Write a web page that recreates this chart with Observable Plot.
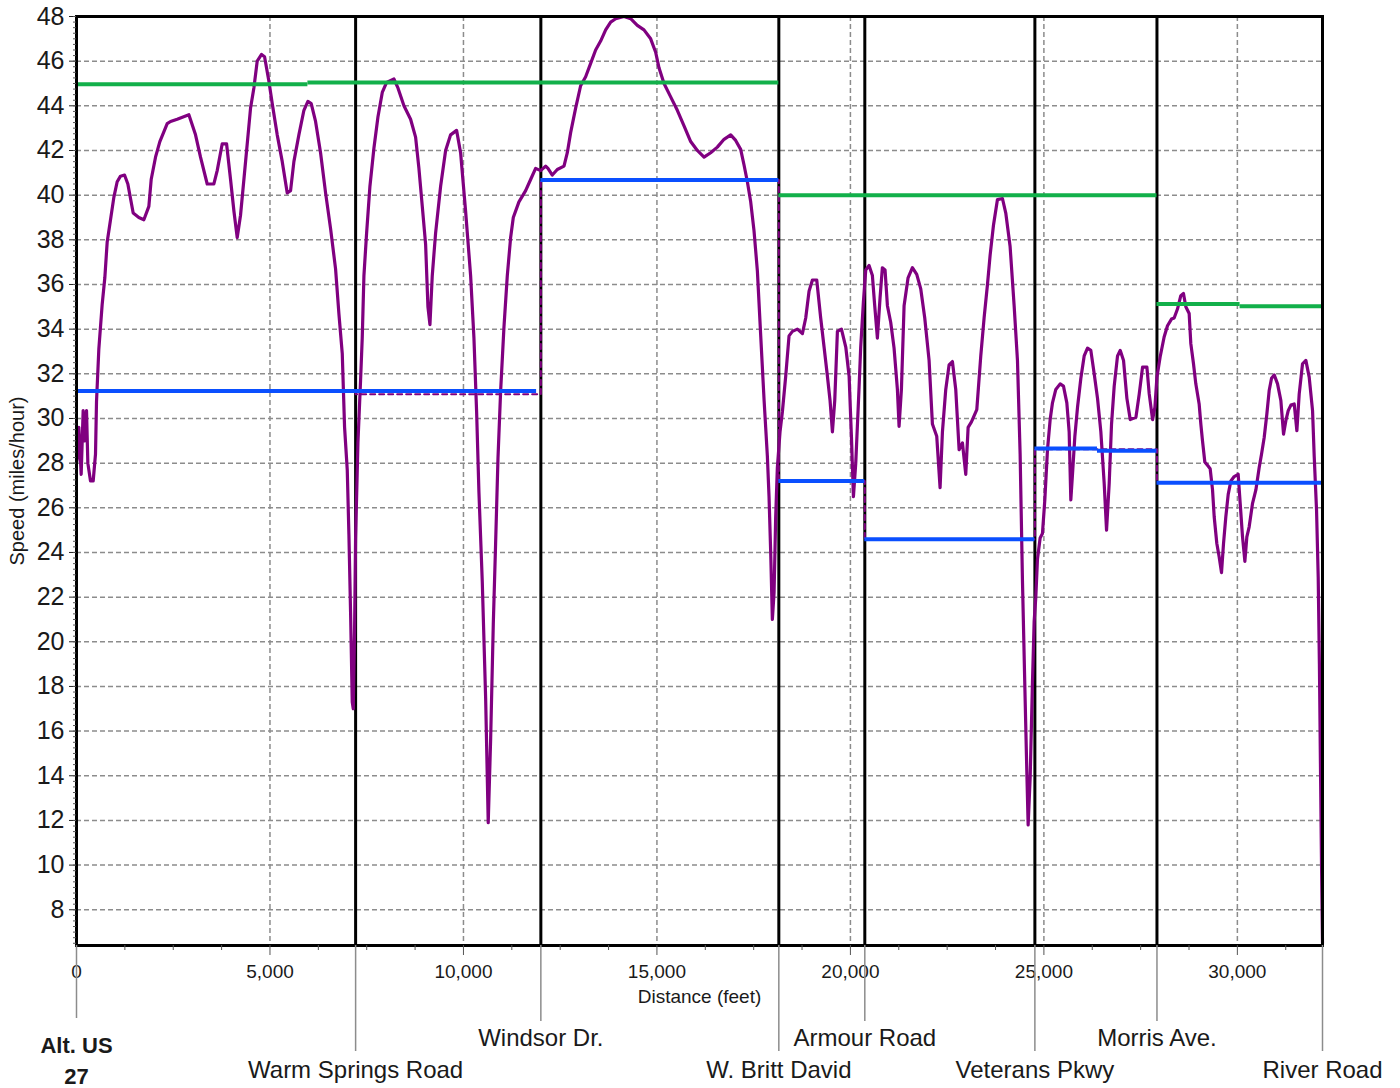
<!DOCTYPE html>
<html><head><meta charset="utf-8">
<script src="https://cdn.jsdelivr.net/npm/d3@7"></script>
<script src="https://cdn.jsdelivr.net/npm/@observablehq/plot@0.6"></script>
<style>html,body{margin:0;padding:0;background:#fff;} #chart svg{display:block}</style>
</head><body><div id="chart"></div>
<script>
// Speed profile (distance in feet, speed in mph)
const distance = [0,17,60,121,172,215,259,293,362,431,491,517,577,663,732,793,879,965,1051,1137,1241,1327,1465,1611,1741,1870,1930,2042,2154,2344,2430,2602,2904,3076,3205,3378,3550,3636,3766,3878,3981,4067,4153,4239,4326,4412,4498,4584,4670,4782,4860,4972,5058,5187,5317,5446,5532,5618,5747,5877,5980,6066,6178,6307,6437,6566,6695,6781,6868,
6928,6997,7040,7083,7126,7152,7186,7212,7273,7341,7384,7428,7497,7583,7686,7790,7902,8014,8203,8307,8462,8634,8763,8849,8936,9022,9082,9134,9194,9280,9410,9539,9668,9823,9926,10055,10185,10271,10340,10400,10486,10573,10640,10702,10771,10831,10892,10960,11047,11133,11219,11288,11434,11607,11736,11865,
11994,12124,12184,12296,12425,12598,12684,12770,12899,13028,13158,13287,13416,13545,13675,13804,13933,14149,14321,14493,14665,14838,14967,15053,15183,15355,15527,15700,15872,16044,16217,16389,16561,16734,16906,17035,17164,17251,17337,17423,17509,17596,17682,17768,17854,17897,17940,17983,18027,18069,18112,18181,18242,18328,18414,18501,18630,18759,18845,18931,19018,19130,19232,19319,19405,19474,19535,19595,19664,19768,19880,19966,20026,20078,20138,20224,
20266,20335,20396,20482,20568,20628,20697,20766,20826,20895,20956,21042,21128,21214,21257,21318,21387,21490,21602,21714,21818,21921,22033,22119,22231,22317,22378,22464,22550,22636,22722,22809,22895,22981,23042,23128,23266,23369,23455,23542,23610,23697,23800,23929,24015,24127,24231,24317,24386,24446,24507,24558,24593,24645,24705,24748,24791,24834,24903,24963,25024,25093,25162,25222,25308,25420,25506,25593,25653,25696,25739,25800,25869,25955,26041,26127,26213,26300,26386,26472,26558,26619,26688,26748,26817,26903,26972,27058,27145,27231,27378,27464,27550,27662,27722,27809,27869,27921,
28004,28107,28194,28297,28366,28452,28538,28607,28668,28754,28797,28866,28926,29012,29056,29099,29159,29228,29297,29358,29401,29469,29530,29590,29642,29702,29763,29832,29918,30021,30073,30133,30194,30245,30305,30392,30478,30564,30624,30693,30762,30822,30883,30952,31038,31124,31193,31253,31314,31383,31469,31538,31598,31684,31770,31856,31943,31986,32046,32089,32120,32150,32175,32200];
const speed = [28.0,28.2,29.6,27.5,30.35,29.0,30.35,28.0,27.2,27.2,28.4,30.75,33.1,35.1,36.3,37.9,38.9,39.9,40.6,40.85,40.9,40.5,39.2,39.0,38.9,39.5,40.7,41.7,42.4,43.2,43.3,43.4,43.6,42.7,41.7,40.5,40.5,41.1,42.3,42.3,40.7,39.3,38.1,39.1,40.7,42.3,43.9,44.8,46.0,46.3,46.2,45.1,44.1,42.7,41.5,40.1,40.2,41.5,42.7,43.8,44.2,44.1,43.3,41.9,40.1,38.5,36.7,34.7,32.9,
29.6,27.7,24.8,21.3,17.3,17.0,20.5,24.6,28.9,31.7,33.6,36.4,38.3,40.4,42.1,43.5,44.6,45.05,45.2,44.8,44.0,43.4,42.6,41.2,39.5,37.8,35.0,34.2,36.4,38.3,40.4,42.0,42.7,42.9,41.9,39.3,36.4,33.6,30.3,26.7,22.7,17.5,11.9,15.6,20.8,24.4,28.2,31.2,34.1,36.4,38.1,39.0,39.7,40.2,40.7,41.2,
41.1,41.3,41.2,40.9,41.15,41.3,41.9,42.8,43.9,44.9,45.3,45.9,46.5,46.9,47.4,47.75,47.9,48.0,47.9,47.6,47.4,47.0,46.4,45.7,45.0,44.4,43.8,43.1,42.4,42.0,41.7,41.9,42.15,42.5,42.7,42.45,42.05,41.35,40.6,39.7,38.4,36.6,33.7,30.85,28.3,26.5,24.0,21.0,22.2,25.6,27.8,29.4,30.3,31.9,33.7,33.9,34.0,33.8,34.5,35.7,36.2,36.2,34.5,33.2,31.9,30.8,29.4,30.8,33.9,34.0,33.2,31.9,29.2,26.5,28.0,31.4,
33.2,35.2,36.65,36.85,36.4,35.05,33.6,35.4,36.75,36.65,35.05,34.3,33.15,31.3,29.65,31.3,35.05,36.3,36.75,36.45,35.8,34.5,32.6,29.75,29.2,26.9,29.4,31.3,32.4,32.55,31.3,28.6,28.9,27.5,29.6,29.85,30.4,32.8,34.5,36.0,37.3,38.65,39.8,39.85,39.2,37.7,35.05,32.6,28.4,22.75,18.05,14.25,11.8,13.9,18.2,20.9,22.0,23.7,24.65,24.85,26.35,28.6,29.95,30.7,31.3,31.55,31.45,30.7,29.4,26.35,27.5,29.2,30.5,31.8,32.8,33.15,33.05,32.0,30.9,29.4,27.1,25.0,27.1,29.75,31.45,32.8,33.05,32.6,30.9,29.95,30.05,31.1,32.3,32.3,31.1,29.95,30.5,31.85,
32.75,33.65,34.15,34.45,34.5,34.9,35.5,35.6,35.0,34.7,33.35,32.45,31.55,30.65,29.75,29.0,28.05,27.9,27.75,26.8,25.6,24.4,23.8,23.1,24.4,25.6,26.6,27.2,27.4,27.5,26.2,24.7,23.6,24.7,25.15,26.2,26.8,27.8,28.4,29.15,30.2,31.25,31.8,31.95,31.55,30.8,29.3,29.9,30.35,30.6,30.65,29.45,31.1,32.45,32.6,31.85,30.35,28.3,25.9,22.9,19.0,14.0,10.0,6.5];

// Section boundaries (intersections)
const sectionBounds = [7213, 12000, 18150, 20372, 24767, 27922];

// Average speed per section (blue)
const avgStart = [0, 12000, 18150, 20372, 24767, 26385, 27922];
const avgEnd   = [11890, 18150, 20372, 24767, 26385, 27922, 32200];
const avgSpeed = [31.23, 40.68, 27.2, 24.59, 28.65, 28.55, 27.12];

// Dashed average step (purple)
const stepDist  = [0, 7213, 12000, 18150, 20372, 24767, 27922, 32200];
const stepSpeed = [31.23, 31.08, 40.68, 27.2, 24.59, 28.62, 27.12, 27.12];

// Speed limit (green)
const limitStart = [0, 5980, 18150, 27922, 30070];
const limitEnd   = [5980, 18150, 27922, 30070, 32200];
const limitSpeed = [44.97, 45.05, 40.0, 35.13, 35.03];

// Ticks
const xTicks = [0, 5000, 10000, 15000, 20000, 25000, 30000];
const xMinorTicks = [1250, 2500, 3750, 6250, 7500, 8750, 11250, 12500, 13750, 16250, 17500, 18750, 21250, 22500, 23750, 26250, 27500, 28750, 31250];
const yTicks = [8, 10, 12, 14, 16, 18, 20, 22, 24, 26, 28, 30, 32, 34, 36, 38, 40, 42, 44, 46, 48];
const yGrid = [8, 10, 12, 14, 16, 18, 20, 22, 24, 26, 28, 30, 32, 34, 36, 38, 40, 42, 44, 46];
const xGrid = [5000, 10000, 15000, 20000, 25000, 30000];

// Cross streets
const roadNames = ["Alt. US\n27", "Warm Springs Road", "Windsor Dr.", "W. Britt David", "Armour Road", "Veterans Pkwy", "Morris Ave.", "River Road"];
const roadDist  = [0, 7213, 12000, 18150, 20372, 24767, 27922, 32200];
const roadRow   = ["first", "lower", "upper", "lower", "upper", "lower", "upper", "lower"];

const yMinorTicks = [];
for (let v = 6.5; v <= 48.001; v += 0.25) yMinorTicks.push(+v.toFixed(2));

const speedData = distance.map((d, i) => ({d, s: speed[i]}));
const avgData = avgStart.map((d, i) => ({x1: d, x2: avgEnd[i], y: avgSpeed[i]}));
const stepData = stepDist.map((d, i) => ({d, s: stepSpeed[i]}));
const limitData = limitStart.map((d, i) => ({x1: d, x2: limitEnd[i], y: limitSpeed[i]}));
const nameOf = d => roadNames[roadDist.indexOf(d)];
const upperRoads = roadDist.filter((d, i) => roadRow[i] === "upper");
const lowerRoads = roadDist.filter((d, i) => roadRow[i] === "lower");
const firstRoad = roadDist.filter((d, i) => roadRow[i] === "first");

const PURPLE = "#800080", BLUE = "#0a4fff", GREEN = "#12b04a", GRID = "#8c8c8c";

const chart = Plot.plot({
  width: 1400, height: 1088,
  marginLeft: 76, marginRight: 78, marginTop: 16, marginBottom: 143,
  x: {domain: [0, 32200], label: null},
  y: {domain: [6.4, 48], label: null},
  style: {fontFamily: "'Liberation Sans', Arial, sans-serif", background: "white", color: "#1a1a1a"},
  marks: [
    Plot.ruleY(yGrid, {stroke: GRID, strokeWidth: 1.5, strokeDasharray: "5,3"}),
    Plot.ruleX(xGrid, {stroke: GRID, strokeWidth: 1.5, strokeDasharray: "5,3"}),
    Plot.ruleX(sectionBounds, {stroke: "black", strokeWidth: 3}),
    Plot.line(stepData, {x: "d", y: "s", curve: "step-after", stroke: PURPLE, strokeWidth: 2, strokeDasharray: "5,4"}),
    Plot.line(speedData, {x: "d", y: "s", stroke: PURPLE, strokeWidth: 3.2}),
    Plot.ruleY(avgData, {x1: "x1", x2: "x2", y: "y", stroke: BLUE, strokeWidth: 4}),
    Plot.ruleY(limitData, {x1: "x1", x2: "x2", y: "y", stroke: GREEN, strokeWidth: 4}),
    Plot.frame({stroke: "black", strokeWidth: 3}),
    Plot.axisY({ticks: yTicks, tickSize: 7, tickPadding: 5, fontSize: 25, label: null, stroke: "#222"}),
    Plot.axisY({ticks: yMinorTicks, tickSize: 3, tickFormat: () => "", label: null, stroke: "#555"}),
    Plot.axisX({ticks: xTicks, tickSize: 10, tickPadding: 9, fontSize: 19, tickFormat: d3.format(","), label: null, stroke: "#555"}),
    Plot.axisX({ticks: xMinorTicks, tickSize: 5, tickFormat: () => "", label: null, stroke: "#555"}),
    Plot.axisX({ticks: upperRoads, tickSize: 76, tickPadding: 7, fontSize: 24, tickFormat: nameOf, label: null, stroke: GRID, strokeWidth: 1.5}),
    Plot.axisX({ticks: lowerRoads, tickSize: 106, tickPadding: 9, fontSize: 24, tickFormat: nameOf, label: null, stroke: GRID, strokeWidth: 1.5}),
    Plot.axisX({ticks: firstRoad, tickSize: 73, tickPadding: 13, fontSize: 22, fontWeight: "bold", lineHeight: 1.4, tickFormat: nameOf, label: null, stroke: GRID, strokeWidth: 1.5}),
    Plot.text(["Speed (miles/hour)"], {frameAnchor: "left", textAnchor: "middle", dx: -59, rotate: -90, fontSize: 20, fill: "#1a1a1a"}),
    Plot.text(["Distance (feet)"], {frameAnchor: "bottom", dy: 57, fontSize: 19, fill: "#1a1a1a"})
  ]
});
document.getElementById("chart").appendChild(chart);
</script>
</body></html>
